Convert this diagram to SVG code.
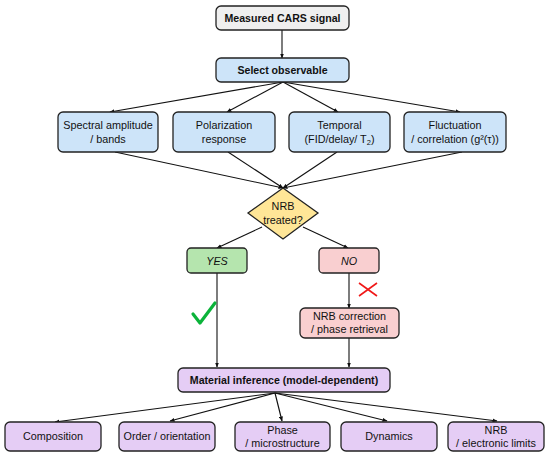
<svg xmlns="http://www.w3.org/2000/svg" width="550" height="457" viewBox="0 0 550 457">
<defs>
<style>
.box{stroke:#222;stroke-width:1.3}
.g{fill:#efefef}.b{fill:#cde4f9}.y{fill:#ffe697}.gr{fill:#b5e5ae}.p{fill:#f9cfd0}.v{fill:#e5cdf5}
text{font-family:"Liberation Sans",Arial,sans-serif;font-size:10.8px;fill:#111;text-anchor:middle}
.bd{font-weight:bold;font-size:10.6px}
.it{font-style:italic}
.c{stroke:#111;stroke-width:1.1;fill:none;marker-end:url(#ah)}
</style>
<marker id="ah" viewBox="0 0 10 10" refX="9" refY="5" markerWidth="5" markerHeight="5" orient="auto-start-reverse" markerUnits="userSpaceOnUse">
<path d="M0,1 L10,5 L0,9 z" fill="#111"/>
</marker>
</defs>
<rect width="550" height="457" fill="#fff"/>
<g id="connectors">
<path class="c" d="M282,30 L282,58"/>
<path class="c" d="M283,82 L110,112"/>
<path class="c" d="M283,82 L227,112"/>
<path class="c" d="M283,82 L338,112"/>
<path class="c" d="M283,82 L460,112"/>
<path class="c" d="M115,152 L283,188"/>
<path class="c" d="M228,152 L283,188"/>
<path class="c" d="M337,152 L283,188"/>
<path class="c" d="M462,152 L283,188"/>
<path class="c" d="M262,227 L217,248"/>
<path class="c" d="M303,227 L348,248"/>
<path class="c" d="M217,273 L217,367"/>
<path class="c" d="M349,273 L349,308"/>
<path class="c" d="M349,338 L349,367"/>
<path class="c" d="M275,393 L55,422"/>
<path class="c" d="M275,393 L170,421"/>
<path class="c" d="M275,393 L282,421"/>
<path class="c" d="M275,393 L387,421"/>
<path class="c" d="M275,393 L497,421"/>
</g>
<g id="n-measured"><rect class="box g" x="216" y="6" width="133" height="24" rx="5"/><text class="bd" x="282.5" y="22">Measured CARS signal</text></g>
<g id="n-select"><rect class="box b" x="216" y="58" width="133" height="24" rx="5"/><text class="bd" x="282.5" y="74">Select observable</text></g>
<g id="n-spectral"><rect class="box b" x="58" y="112" width="100" height="40" rx="5"/><text x="108" y="129">Spectral amplitude</text><text x="108" y="143">/ bands</text></g>
<g id="n-polar"><rect class="box b" x="173" y="112" width="102" height="40" rx="5"/><text x="224" y="129">Polarization</text><text x="224" y="143">response</text></g>
<g id="n-temporal"><rect class="box b" x="289" y="112" width="101" height="40" rx="5"/><text x="339.5" y="129">Temporal</text><text x="339.5" y="143">(FID/delay/ T<tspan font-size="7.5" dy="2">2</tspan><tspan dy="-2">)</tspan></text></g>
<g id="n-fluct"><rect class="box b" x="404" y="112" width="102" height="40" rx="5"/><text x="455" y="129">Fluctuation</text><text x="455" y="143">/ correlation (g²(τ))</text></g>
<g id="n-nrb-treated"><path class="box y" d="M283,188 L318,213 L283,239 L248,213 Z"/><text x="283" y="210">NRB</text><text x="283" y="224">treated?</text></g>
<g id="n-yes"><rect class="box gr" x="187" y="248" width="60" height="25" rx="4"/><text class="it" x="217" y="264.5">YES</text></g>
<g id="n-no"><rect class="box p" x="319" y="248" width="60" height="25" rx="4"/><text class="it" x="349" y="264.5">NO</text></g>
<g id="n-correction"><rect class="box p" x="300" y="308" width="99" height="30" rx="5"/><text x="349.5" y="320">NRB correction</text><text x="349.5" y="333">/ phase retrieval</text></g>
<g id="n-material"><rect class="box v" x="178" y="368" width="212" height="24" rx="5"/><text class="bd" x="284" y="384">Material inference (model-dependent)</text></g>
<g id="n-composition"><rect class="box v" x="5" y="422" width="96" height="29" rx="5"/><text x="53" y="440">Composition</text></g>
<g id="n-order"><rect class="box v" x="119" y="422" width="96" height="29" rx="5"/><text x="167" y="440">Order / orientation</text></g>
<g id="n-phase"><rect class="box v" x="235" y="422" width="95" height="29" rx="5"/><text x="282.5" y="433.5">Phase</text><text x="282.5" y="446.5">/ microstructure</text></g>
<g id="n-dynamics"><rect class="box v" x="341" y="422" width="96" height="29" rx="5"/><text x="389" y="440">Dynamics</text></g>
<g id="n-nrb-limits"><rect class="box v" x="448" y="422" width="96" height="29" rx="5"/><text x="496" y="433.5">NRB</text><text x="496" y="446.5">/ electronic limits</text></g>
<g id="check"><path d="M193,314 L200,323 L215,303" fill="none" stroke="#0bb33a" stroke-width="3.2" stroke-linecap="round" stroke-linejoin="round"/></g>
<g id="cross"><path d="M359,283 L377,296 M377,283 L359,296" stroke="#f01818" stroke-width="1.6" fill="none"/></g>
</svg>
